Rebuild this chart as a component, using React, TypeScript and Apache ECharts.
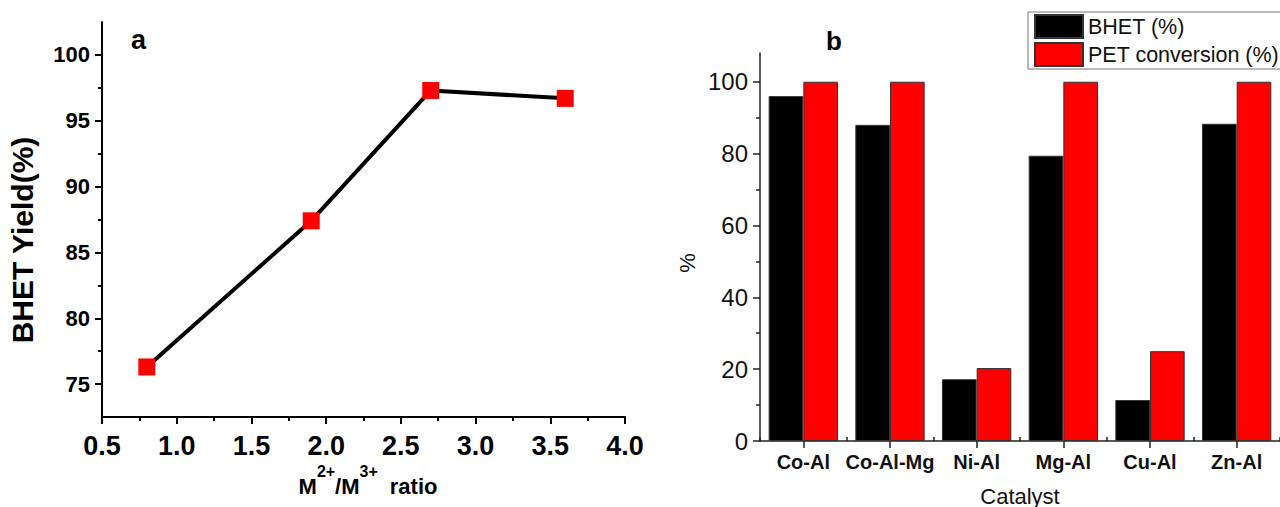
import { useEffect, useRef } from 'react';
import * as echarts from 'echarts';

const ratios = [0.8, 1.9, 2.7, 3.6];
const bhetYield = [76.3, 87.4, 97.3, 96.7];
const yieldTicks = [75, 80, 85, 90, 95, 100];
const yieldMinorTicks = [77.5, 82.5, 87.5, 92.5, 97.5];

const catalysts = ['Co-Al', 'Co-Al-Mg', 'Ni-Al', 'Mg-Al', 'Cu-Al', 'Zn-Al'];
const bhetPercent = [96, 88, 17.2, 79.4, 11.4, 88.3];
const petConversion = [100, 100, 20.3, 100, 25, 100];
const percentTicks = [0, 20, 40, 60, 80, 100];
const percentMinorTicks = [10, 30, 50, 70, 90];

const FONT = '"Liberation Sans", Arial, Helvetica, sans-serif';

export default function App() {
  const ref = useRef<HTMLDivElement>(null);

  useEffect(() => {
    if (!ref.current) return;
    const chart = echarts.init(ref.current, null, { renderer: 'svg' });
    const black = '#000';
    const option: any = {
      animation: false,
      backgroundColor: '#fff',
      textStyle: { fontFamily: FONT },
      grid: [
        { left: 102, top: 22, width: 523, height: 395, containLabel: false, outerBoundsMode: 'none' },
        { left: 760, top: 53, width: 520, height: 388, containLabel: false, outerBoundsMode: 'none' },
      ],
      legend: {
        data: ['BHET (%)', 'PET conversion (%)'],
        orient: 'vertical',
        left: 1028,
        top: 12,
        itemWidth: 48,
        itemHeight: 23,
        itemGap: 3,
        icon: 'rect',
        padding: [2, 40, 2, 6],
        borderColor: '#777',
        borderWidth: 1,
        backgroundColor: '#fff',
        textStyle: { fontFamily: FONT, fontSize: 21.5, color: '#111' },
      },
      xAxis: [
        {
          type: 'value',
          gridIndex: 0,
          min: 0.5,
          max: 4.0,
          interval: 0.5,
          axisLine: { show: true, lineStyle: { color: black, width: 2 } },
          axisTick: { show: true, length: 7, lineStyle: { color: black, width: 2 } },
          minorTick: { show: true, splitNumber: 2, length: 4, lineStyle: { color: black, width: 2 } },
          axisLabel: {
            fontSize: 27,
            fontWeight: 'bold',
            color: black,
            margin: 15,
            formatter: (v: number) => v.toFixed(1),
          },
          splitLine: { show: false },
        },
        {
          type: 'category',
          gridIndex: 1,
          data: catalysts,
          name: 'Catalyst',
          nameLocation: 'middle',
          nameGap: 44,
          nameTextStyle: { fontSize: 22, color: '#111' },
          axisLine: { show: true, lineStyle: { color: '#222', width: 1.5 } },
          axisTick: { show: true, alignWithLabel: true, interval: 0, length: 7, lineStyle: { color: '#222', width: 1.5 } },
          axisLabel: { fontSize: 20, fontWeight: 'bold', color: '#111', margin: 11, interval: 0 },
          splitLine: { show: false },
        },
        {
          type: 'category',
          gridIndex: 1,
          data: catalysts,
          axisLine: { show: false },
          axisTick: { show: true, interval: 0, length: 4, lineStyle: { color: '#222', width: 1.5 } },
          axisLabel: { show: false },
          splitLine: { show: false },
        },
      ],
      yAxis: [
        {
          type: 'value',
          gridIndex: 0,
          position: 'left',
          min: 72.5,
          max: 102.5,
          axisLine: { show: true, lineStyle: { color: black, width: 2 } },
          axisTick: { show: true, length: 7, customValues: yieldTicks, lineStyle: { color: black, width: 2 } },
          axisLabel: { fontSize: 22, fontWeight: 'bold', color: black, margin: 12, customValues: yieldTicks },
          splitLine: { show: false },
        },
        {
          type: 'value',
          gridIndex: 0,
          position: 'left',
          min: 72.5,
          max: 102.5,
          axisLine: { show: false },
          axisTick: { show: true, length: 4, customValues: yieldMinorTicks, lineStyle: { color: black, width: 2 } },
          axisLabel: { show: false },
          splitLine: { show: false },
        },
        {
          type: 'value',
          gridIndex: 1,
          position: 'left',
          min: 0,
          max: 108,
          name: '%',
          nameLocation: 'middle',
          nameRotate: 90,
          nameGap: 62,
          nameTextStyle: { fontSize: 22, color: '#111', padding: [0, 32, 0, 0] },
          axisLine: { show: true, lineStyle: { color: '#222', width: 1.5 } },
          axisTick: { show: true, length: 7, customValues: percentTicks, lineStyle: { color: '#222', width: 1.5 } },
          axisLabel: { fontSize: 24, color: '#111', margin: 12, customValues: percentTicks },
          splitLine: { show: false },
        },
        {
          type: 'value',
          gridIndex: 1,
          position: 'left',
          min: 0,
          max: 108,
          axisLine: { show: false },
          axisTick: { show: true, length: 4, customValues: percentMinorTicks, lineStyle: { color: '#222', width: 1.5 } },
          axisLabel: { show: false },
          splitLine: { show: false },
        },
      ],
      series: [
        {
          type: 'line',
          xAxisIndex: 0,
          yAxisIndex: 0,
          data: ratios.map((x, i) => [x, bhetYield[i]]),
          symbol: 'rect',
          symbolSize: 17,
          lineStyle: { color: black, width: 4 },
          itemStyle: { color: '#ff0000' },
          z: 3,
        },
        {
          name: 'BHET (%)',
          type: 'bar',
          xAxisIndex: 1,
          yAxisIndex: 2,
          data: bhetPercent,
          barGap: '0%',
          barCategoryGap: '20%',
          itemStyle: { color: '#000', borderColor: '#333', borderWidth: 1 },
        },
        {
          name: 'PET conversion (%)',
          type: 'bar',
          xAxisIndex: 1,
          yAxisIndex: 2,
          data: petConversion,
          barGap: '0%',
          barCategoryGap: '20%',
          itemStyle: { color: '#ff0000', borderColor: '#333', borderWidth: 1 },
        },
      ],
      graphic: [
        {
          type: 'text',
          left: 131,
          top: 26,
          style: { text: 'a', fontSize: 27, fontWeight: 'bold', fontFamily: FONT, fill: black },
        },
        {
          type: 'text',
          left: 826,
          top: 28,
          style: { text: 'b', fontSize: 26, fontWeight: 'bold', fontFamily: FONT, fill: black },
        },
        {
          type: 'text',
          x: 22,
          y: 240,
          rotation: Math.PI / 2,
          style: {
            text: 'BHET Yield(%)',
            fontSize: 30,
            fontWeight: 'bold',
            fontFamily: FONT,
            fill: black,
            align: 'center',
            verticalAlign: 'middle',
          },
        },
        {
          type: 'text',
          x: 368,
          y: 486,
          style: {
            text: '{m|M}{s|2+}{m|/M}{s|3+}{r|ratio}',
            align: 'center',
            verticalAlign: 'middle',
            fill: black,
            rich: {
              m: { fontSize: 22, fontWeight: 'bold', fontFamily: FONT, fill: black },
              s: { fontSize: 16, fontWeight: 'bold', fontFamily: FONT, fill: black, padding: [0, 0, 30, 0] },
              r: { fontSize: 22, fontWeight: 'bold', fontFamily: FONT, fill: black, padding: [0, 0, 0, 12] },
            },
          },
        },
      ],
    };
    chart.setOption(option);
    return () => chart.dispose();
  }, []);

  return (
    <div
      ref={ref}
      style={{ position: 'fixed', left: 0, top: 0, width: 1280, height: 507, background: '#fff' }}
    />
  );
}
